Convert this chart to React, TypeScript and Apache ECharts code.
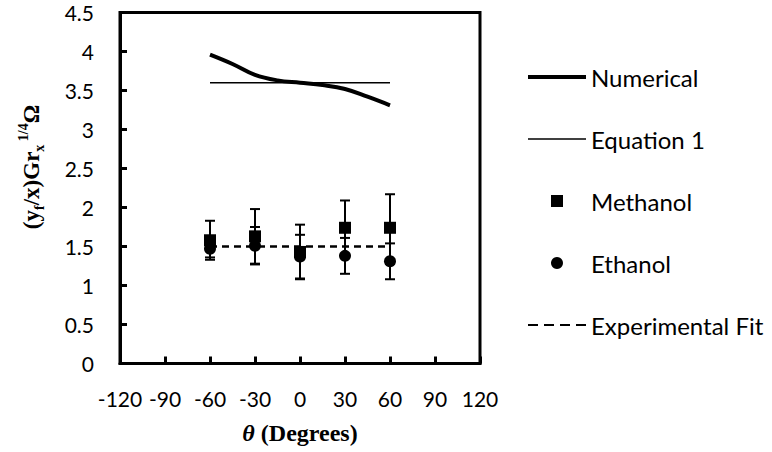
import React, { useEffect, useRef } from "react";
import * as echarts from "echarts";

const thetaNum = [-60, -45, -30, -15, 0, 15, 30, 45, 60];
const numerical = [3.96, 3.84, 3.7, 3.63, 3.6, 3.57, 3.52, 3.42, 3.31];
const eqTheta = [-60, 60];
const equation1 = [3.6, 3.6];
const theta = [-60, -30, 0, 30, 60];
const methanol = [1.58, 1.63, 1.43, 1.74, 1.74];
const methanolErr = [0.25, 0.35, 0.35, 0.35, 0.43];
const ethanol = [1.47, 1.51, 1.37, 1.38, 1.31];
const ethanolErr = [0.11, 0.24, 0.28, 0.23, 0.23];
const fitTheta = [-60, 60];
const experimentalFit = [1.5, 1.5];
const legendNames = ["Numerical", "Equation 1", "Methanol", "Ethanol", "Experimental Fit"];

const legendIcons: Record<string, string> = {
  Numerical: "path://M0 0H58V4H0Z",
  "Equation 1": "path://M0 0H58V1.5H0Z",
  Methanol: "path://M0 0H1V1H0Z",
  Ethanol: "circle",
  "Experimental Fit": "path://M0 0H10V2H0Z M16 0H26V2H16Z M32 0H42V2H32Z M48 0H58V2H48Z",
};

const pairs = (xs: number[], ys: number[]) => xs.map((x, i) => [x, ys[i]]);
const errRows = (xs: number[], ys: number[], es: number[]) =>
  xs.map((x, i) => [x, ys[i] - es[i], ys[i] + es[i]]);

const errorRender = (params: any, api: any) => {
  const x = api.value(0);
  const lo = api.coord([x, api.value(1)]);
  const hi = api.coord([x, api.value(2)]);
  const hw = 5;
  const st = { stroke: "#000", lineWidth: 2 };
  return {
    type: "group",
    children: [
      { type: "line", shape: { x1: lo[0], y1: lo[1], x2: hi[0], y2: hi[1] }, style: st },
      { type: "line", shape: { x1: lo[0] - hw, y1: lo[1], x2: lo[0] + hw, y2: lo[1] }, style: st },
      { type: "line", shape: { x1: hi[0] - hw, y1: hi[1], x2: hi[0] + hw, y2: hi[1] }, style: st },
    ],
  };
};

const SANS = "Lato";
const SERIF = "'Liberation Serif', 'DejaVu Serif', serif";

export default function App() {
  const ref = useRef<HTMLDivElement>(null);
  useEffect(() => {
    if (!ref.current) return;
    const chart = echarts.init(ref.current, null, { renderer: "svg" });
    chart.setOption({
      animation: false,
      backgroundColor: "#fff",
      grid: {
        left: 120,
        top: 12.5,
        width: 360,
        height: 351,
        show: true,
        borderColor: "#000",
        borderWidth: 3,
      },
      legend: {
        orient: "vertical",
        left: 528,
        top: 65,
        padding: 0,
        itemWidth: 58,
        itemHeight: 12,
        itemGap: 38,
        symbolKeepAspect: true,
        itemStyle: { borderWidth: 0, color: "#000", opacity: 1 },
        data: legendNames.map((n) => ({ name: n, icon: legendIcons[n] })),
        textStyle: { fontFamily: SANS, fontSize: 24, color: "#000", lineHeight: 24 },
        selectedMode: false,
      },
      xAxis: {
        type: "value",
        min: -120,
        max: 120,
        interval: 30,
        splitLine: { show: false },
        axisLine: { show: true, onZero: false, lineStyle: { color: "#000", width: 3 } },
        axisTick: { inside: true, length: 7, lineStyle: { color: "#000", width: 3 } },
        axisLabel: { fontFamily: SANS, fontSize: 21, color: "#000", margin: 24 },
        name: "{i|θ}{b| (Degrees)}",
        nameLocation: "middle",
        nameGap: 57,
        nameTextStyle: {
          rich: {
            i: { fontFamily: SERIF, fontSize: 24, fontWeight: "bold", fontStyle: "italic", color: "#000" },
            b: { fontFamily: SERIF, fontSize: 24, fontWeight: "bold", color: "#000" },
          },
        },
      },
      yAxis: {
        type: "value",
        min: 0,
        max: 4.5,
        interval: 0.5,
        splitLine: { show: false },
        axisLine: { show: true, onZero: false, lineStyle: { color: "#000", width: 3 } },
        axisTick: { inside: true, length: 7, lineStyle: { color: "#000", width: 3 } },
        axisLabel: { fontFamily: SANS, fontSize: 21, color: "#000", margin: 26 },
      },
      graphic: [
        {
          type: "text",
          x: 31,
          y: 167,
          rotation: Math.PI / 2,
          style: {
            text: "{n|(y}{s|f}{n|/x)Gr}{s|x}{p| 1/4}{n|Ω}",
            align: "center",
            verticalAlign: "middle",
            rich: {
              n: { fontFamily: SERIF, fontSize: 23, fontWeight: "bold", fill: "#000", lineHeight: 30 },
              s: { fontFamily: SERIF, fontSize: 14, fontWeight: "bold", fill: "#000", lineHeight: 14, verticalAlign: "bottom" },
              p: { fontFamily: SERIF, fontSize: 14, fontWeight: "bold", fill: "#000", lineHeight: 14, verticalAlign: "top" },
            },
          },
        },
      ],
      series: [
        {
          name: "Numerical",
          type: "line",
          data: pairs(thetaNum, numerical),
          smooth: 0.4,
          symbol: "none",
          lineStyle: { color: "#000", width: 4 },
          itemStyle: { color: "#000" },
        },
        {
          name: "Equation 1",
          type: "line",
          data: pairs(eqTheta, equation1),
          symbol: "none",
          lineStyle: { color: "#000", width: 1.5 },
          itemStyle: { color: "#000" },
        },
        {
          name: "Methanol",
          type: "scatter",
          data: pairs(theta, methanol),
          symbol: "rect",
          symbolSize: 12,
          itemStyle: { color: "#000", opacity: 1 },
          z: 5,
        },
        {
          name: "Ethanol",
          type: "scatter",
          data: pairs(theta, ethanol),
          symbol: "circle",
          symbolSize: 12,
          itemStyle: { color: "#000", opacity: 1 },
          z: 5,
        },
        {
          name: "Experimental Fit",
          type: "line",
          data: pairs(fitTheta, experimentalFit),
          symbol: "none",
          lineStyle: { color: "#000", width: 2.5, type: [7, 5] },
          itemStyle: { color: "#000" },
        },
        {
          name: "Methanol error",
          type: "custom",
          data: errRows(theta, methanol, methanolErr),
          renderItem: errorRender,
          z: 3,
        },
        {
          name: "Ethanol error",
          type: "custom",
          data: errRows(theta, ethanol, ethanolErr),
          renderItem: errorRender,
          z: 3,
        },
      ],
    });
    return () => chart.dispose();
  }, []);
  return <div ref={ref} style={{ position: "fixed", left: 0, top: 0, width: 772, height: 452 }} />;
}
